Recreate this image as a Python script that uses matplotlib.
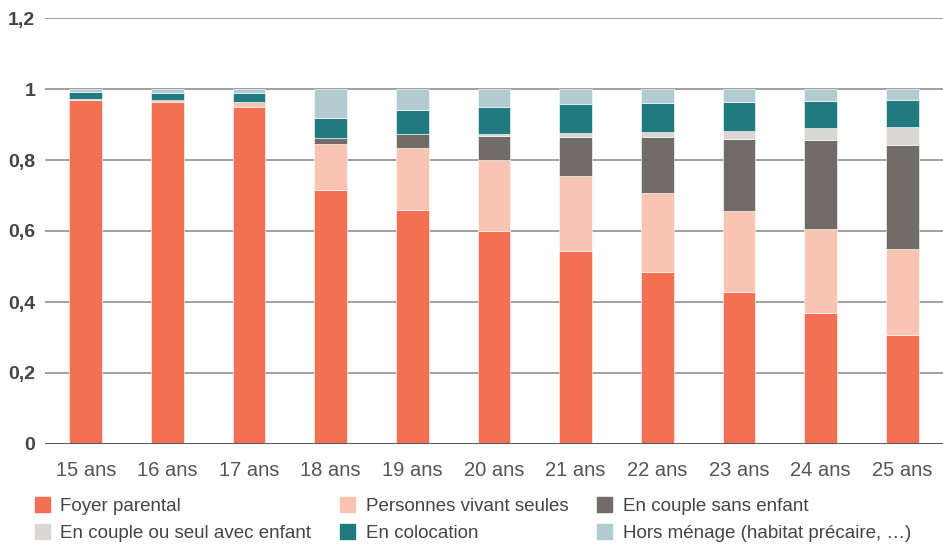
import matplotlib.pyplot as plt
from matplotlib.patches import Patch
import numpy as np

plt.rcParams['font.family'] = ['Liberation Sans', 'DejaVu Sans']

ages = ['15 ans', '16 ans', '17 ans', '18 ans', '19 ans', '20 ans',
        '21 ans', '22 ans', '23 ans', '24 ans', '25 ans']

foyer = [0.970, 0.964, 0.950, 0.715, 0.660, 0.600, 0.545, 0.485, 0.429, 0.368, 0.307]
seules = [0.003, 0.005, 0.014, 0.130, 0.174, 0.199, 0.210, 0.223, 0.228, 0.237, 0.241]
couple = [0.000, 0.000, 0.000, 0.016, 0.038, 0.069, 0.110, 0.157, 0.203, 0.251, 0.295]
enfant = [0.000, 0.000, 0.000, 0.001, 0.002, 0.004, 0.010, 0.014, 0.023, 0.033, 0.051]
coloc = [0.018, 0.020, 0.025, 0.056, 0.067, 0.078, 0.082, 0.081, 0.081, 0.077, 0.075]
hors = [0.009, 0.011, 0.011, 0.082, 0.059, 0.050, 0.043, 0.040, 0.036, 0.034, 0.031]

series = [
    ('Foyer parental', foyer, '#F37055'),
    ('Personnes vivant seules', seules, '#FAC4B2'),
    ('En couple sans enfant', couple, '#716C67'),
    ('En couple ou seul avec enfant', enfant, '#DAD6D3'),
    ('En colocation', coloc, '#217A80'),
    ('Hors ménage (habitat précaire, …)', hors, '#B2CBD1'),
]

fig = plt.figure(figsize=(9.43, 5.47), dpi=100)
ax = fig.add_axes([45 / 943, 1 - 444 / 547, 898 / 943, 426 / 547])

x = np.arange(len(ages))
bottom = np.zeros(len(ages))
for name, vals, color in series:
    ax.bar(x, vals, 0.4, bottom=bottom, color=color, edgecolor='white',
           linewidth=0.4, zorder=3)
    bottom += np.array(vals)

ax.set_ylim(0, 1.2)
ax.set_xlim(-0.5, 10.5)
yt = [0, 0.2, 0.4, 0.6, 0.8, 1, 1.2]
ax.set_yticks(yt)
ax.set_yticklabels(['0', '0,2', '0,4', '0,6', '0,8', '1', '1,2'],
                   fontsize=14, fontweight='bold', color='#444444')
ax.set_xticks(x)
ax.set_xticklabels(ages, fontsize=14.5, color='#555555')
ax.tick_params(axis='y', length=0, pad=7)
ax.tick_params(axis='x', length=0, pad=12)
for s in ax.spines.values():
    s.set_visible(False)
ax.grid(axis='y', color='#999999', linewidth=1.3, zorder=0)
ax.axhline(0, color='#4a5560', linewidth=2, zorder=4)

handles = [Patch(color=c, label=n) for n, _, c in series]
order = [0, 3, 1, 4, 2, 5]
fig.legend([handles[i] for i in order], [series[i][0] for i in order],
           ncol=3, loc='upper left', bbox_to_anchor=(35 / 943, 1 - 497 / 547),
           frameon=False, fontsize=13.5, labelcolor='#444444',
           borderpad=0, borderaxespad=0,
           handlelength=0.8, handleheight=0.85, handletextpad=0.55,
           columnspacing=1.55, labelspacing=0.5)

fig.savefig('out.png', dpi=100)
